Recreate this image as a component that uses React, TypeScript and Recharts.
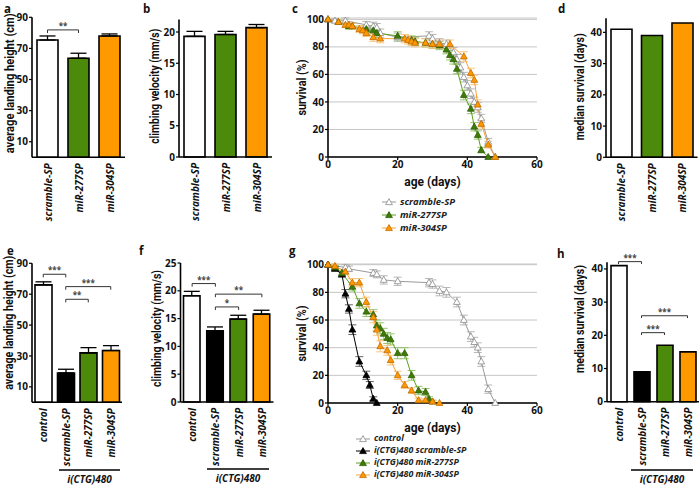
import React from 'react'
import {
  BarChart,
  Bar,
  Cell,
  LineChart,
  Line,
  XAxis,
  YAxis,
  ErrorBar,
  ReferenceLine,
  CartesianGrid,
  Label,
  Legend,
} from 'recharts'

const W = 700
const H = 487
const FONT = '"Open Sans", "Noto Sans", Arial, sans-serif'
const TITLE_FONT = 'Roboto, "Open Sans", sans-serif'

const GREEN = '#4b8a0a'
const ORANGE = '#ff9900'
const GRAY = '#9a9a9a'

// top row (sponge lines)
const spGroups = ['scramble-SP', 'miR-277SP', 'miR-304SP']
const spColors = ['#ffffff', GREEN, ORANGE]
const spLanding = [75.4, 63.7, 78]
const spLandingErr = [2.6, 3.2, 1.3]
const spVelocity = [19.3, 19.6, 20.7]
const spVelocityErr = [0.8, 0.5, 0.5]
const spMedian = [41, 39, 43]

// bottom row (i(CTG)480 background)
const ctgGroups = ['control', 'scramble-SP', 'miR-277SP', 'miR-304SP']
const ctgColors = ['#ffffff', '#000000', GREEN, ORANGE]
const ctgLanding = [76, 19, 32, 33.5]
const ctgLandingErr = [2, 2.4, 3.4, 3.2]
const ctgVelocity = [19.1, 12.8, 14.9, 15.8]
const ctgVelocityErr = [0.8, 0.7, 0.7, 0.7]
const ctgMedian = [41, 9, 17, 15]

// survival curves, panel c
const cScrDays = [0, 2, 5, 11, 13, 14, 15, 20, 29, 30, 32, 34, 36, 37, 38, 39, 40, 41, 42, 43, 44, 46, 48]
const cScrSurv = [100, 99, 99, 96, 95, 94, 90, 87, 88, 86, 83, 82, 76, 71, 65, 58, 52, 46, 40, 36, 28, 11, 0]
const cScrErr = [0, 1.5, 2, 2.5, 3, 3, 3, 3, 3, 3, 3, 3, 3.5, 3.5, 3.5, 3.5, 3.5, 3.5, 3.5, 3.5, 3, 2.5, 0]
const c277Days = [0, 3, 6, 7, 11, 13, 14, 20, 24, 25, 28, 30, 32, 34, 35, 36, 37, 39, 41, 42, 43, 44, 46]
const c277Surv = [100, 98, 95, 95, 93, 92, 90, 88, 85, 84, 83, 82, 81, 78, 74, 71, 64, 45, 35, 22, 16, 5, 0]
const c277Err = [0, 1.5, 2, 2, 2.5, 2.5, 3, 3, 3, 3, 3, 3, 3, 3, 3.5, 3.5, 3.5, 3.5, 3.5, 3, 3, 2, 0]
const c304Days = [0, 3, 5, 6, 7, 9, 10, 11, 13, 15, 22, 23, 24, 25, 28, 30, 32, 35, 39, 41, 42, 43, 44, 46, 48]
const c304Surv = [100, 98, 96, 96, 95, 93, 92, 90, 87, 86, 86, 85, 84, 83, 83, 82, 82, 82, 73, 61, 56, 38, 24, 9, 0]
const c304Err = [0, 1.5, 2, 2, 2, 2.5, 2.5, 2.5, 3, 3, 3, 3, 3, 3, 3, 3, 3, 3, 3.5, 3.5, 3.5, 3.5, 3, 2.5, 0]

// survival curves, panel g
const gCtlDays = [0, 5, 6, 13, 14, 16, 20, 29, 30, 32, 34, 37, 39, 41, 42, 43, 44, 46, 48]
const gCtlSurv = [100, 98, 97, 94, 93, 89, 88, 87, 86, 81, 80, 73, 60, 48, 44, 40, 30, 10, 0]
const gCtlErr = [0, 2, 2, 2.5, 2.5, 3, 3, 3, 3, 3.5, 3.5, 3.5, 3.5, 3.5, 3.5, 3.5, 3.5, 3, 0]
const gScrDays = [0, 2, 4, 5, 6, 7, 9, 11, 12, 13, 14]
const gScrSurv = [100, 97, 93, 79, 68, 53, 30, 20, 13, 3, 0]
const gScrErr = [0, 1.5, 2, 3, 3, 3.5, 3.5, 3, 2.5, 1.5, 0]
const g277Days = [0, 2, 4, 7, 9, 11, 13, 14, 15, 16, 17, 18, 20, 22, 24, 26, 28, 29, 30]
const g277Surv = [100, 98, 94, 84, 72, 66, 64, 56, 54, 50, 47, 46, 36, 36, 20, 9, 8, 3, 1]
const g277Err = [0, 1.5, 2, 3, 3.5, 3.5, 3.5, 4, 4, 4, 4, 4, 4, 4, 3.5, 3, 2.5, 1.5, 1]
const g304Days = [0, 2, 5, 7, 9, 11, 13, 14, 15, 17, 18, 20, 22, 24, 26, 28, 30, 32]
const g304Surv = [100, 99, 95, 87, 87, 73, 62, 53, 41, 38, 31, 20, 13, 9, 2, 2, 1, 0]
const g304Err = [0, 1.5, 2, 3, 3, 3.5, 4, 4, 4, 3.5, 3.5, 3, 2.5, 2, 1.5, 1, 1, 0]

const toRows = (days: number[], surv: number[], err: number[]) =>
  days.map((day, i) => ({ day, surv: surv[i], err: err[i] }))

interface Bracket {
  from: string
  to: string
  y: number
  stars: string
}

function RotTick(props: any) {
  const { x, y, payload } = props
  return (
    <text
      transform={`translate(${x},${y}) rotate(-90)`}
      textAnchor="end"
      dominantBaseline="central"
      fontSize={10}
      fontWeight={700}
      fontStyle="italic"
      fontFamily={FONT}
      fill="#111"
    >
      {payload.value}
    </text>
  )
}

// rotated axis title, squeezed to the span it has in the figure
function YTitle(props: any) {
  const { viewBox, text, dist, len, dy = 0 } = props
  const cx = viewBox.x + viewBox.width - dist
  const cy = viewBox.y + viewBox.height / 2 + dy
  return (
    <text
      x={cx}
      y={cy}
      transform={`rotate(-90 ${cx} ${cy})`}
      textAnchor="middle"
      dominantBaseline="central"
      fontSize={12}
      fontWeight={700}
      fontFamily={TITLE_FONT}
      textLength={len}
      lengthAdjust="spacingAndGlyphs"
      fill="#111"
    >
      {text}
    </text>
  )
}

function XTitle(props: any) {
  const { viewBox, text, dy } = props
  return (
    <text
      x={viewBox.x + viewBox.width / 2}
      y={viewBox.y + dy}
      textAnchor="middle"
      dominantBaseline="central"
      fontSize={12}
      fontWeight={700}
      fontFamily={TITLE_FONT}
      fill="#111"
    >
      {text}
    </text>
  )
}

const tickStyle = { fontSize: 10, fontWeight: 700, fill: '#111', fontFamily: FONT }
const axisStyle = { stroke: '#000', strokeWidth: 1.6 }

function BarPanel(props: any) {
  const {
    groups, colors, values, errors, domain, ticks, left, right, top, bottom,
    barSize, title, titleDist, titleLen, titleDy, brackets = [], drop = 0,
  } = props
  const yW = 30
  const xH = 70
  const rows = groups.map((name: string, i: number) => ({
    name,
    value: values[i],
    err: errors ? [0, errors[i]] : null,
  }))
  return (
    <div style={{ position: 'absolute', left: 0, top: 0 }}>
      <BarChart
        width={W}
        height={H}
        data={rows}
        margin={{ top, left: left - yW, right: W - right, bottom: H - bottom - xH }}
      >
        <XAxis
          dataKey="name"
          height={xH}
          tickLine={false}
          tickSize={0}
          tickMargin={6}
          interval={0}
          axisLine={axisStyle}
          tick={<RotTick />}
        />
        <YAxis
          width={yW}
          domain={domain}
          ticks={ticks}
          tickSize={3}
          tickMargin={1}
          axisLine={axisStyle}
          tickLine={{ stroke: '#000', strokeWidth: 1.2 }}
          tick={tickStyle}
        >
          <Label
            content={(p: any) => <YTitle {...p} text={title} dist={titleDist} len={titleLen} dy={titleDy} />}
          />
        </YAxis>
        <Bar dataKey="value" barSize={barSize} stroke="#000" strokeWidth={1.6} isAnimationActive={false}>
          {rows.map((r: any, i: number) => (
            <Cell key={r.name} fill={colors[i]} />
          ))}
          {errors && <ErrorBar dataKey="err" width={8} stroke="#000" strokeWidth={1.3} direction="y" />}
        </Bar>
        {brackets.flatMap((b: Bracket, i: number) => [
          <ReferenceLine
            key={`h${i}`}
            segment={[{ x: b.from, y: b.y }, { x: b.to, y: b.y }]}
            stroke="#333"
            strokeWidth={1}
            ifOverflow="visible"
            label={{ value: b.stars, position: 'top', offset: 1, fontSize: 8, fontWeight: 700, fill: '#444' }}
          />,
          <ReferenceLine
            key={`l${i}`}
            segment={[{ x: b.from, y: b.y }, { x: b.from, y: b.y - drop }]}
            stroke="#333"
            strokeWidth={1}
            ifOverflow="visible"
          />,
          <ReferenceLine
            key={`r${i}`}
            segment={[{ x: b.to, y: b.y }, { x: b.to, y: b.y - drop }]}
            stroke="#333"
            strokeWidth={1}
            ifOverflow="visible"
          />,
        ])}
      </BarChart>
    </div>
  )
}

function Tri(props: any) {
  const { cx, cy, fill, stroke } = props
  if (cx == null || cy == null) return null
  return (
    <path
      d={`M${cx},${cy - 3.6}L${cx + 3.4},${cy + 2.4}L${cx - 3.4},${cy + 2.4}Z`}
      fill={fill}
      stroke={stroke}
      strokeWidth={0.8}
    />
  )
}

function LegendBox({ series, rowH, size }: any) {
  return (
    <div style={{ fontFamily: FONT }}>
      {series.map((s: any) => (
        <div key={s.name} style={{ display: 'flex', alignItems: 'center', height: rowH }}>
          <svg width={14} height={9} style={{ marginRight: 4 }}>
            <line x1={0} y1={5} x2={14} y2={5} stroke={s.line} strokeWidth={1} />
            <Tri cx={7} cy={5.2} fill={s.fill} stroke={s.stroke} />
          </svg>
          <span
            style={{
              fontSize: size,
              lineHeight: `${rowH}px`,
              fontWeight: 700,
              fontStyle: 'italic',
              color: '#222',
              whiteSpace: 'nowrap',
            }}
          >
            {s.name}
          </span>
        </div>
      ))}
    </div>
  )
}

function SurvivalPanel(props: any) {
  const { series, left, right, top, bottom, legendLeft, legendTop, rowH, legendSize } = props
  const yW = 30
  const xH = 40
  return (
    <div style={{ position: 'absolute', left: 0, top: 0 }}>
      <LineChart
        width={W}
        height={H}
        margin={{ top, left: left - yW, right: W - right, bottom: H - bottom - xH }}
      >
        <CartesianGrid vertical={false} stroke="#c6c6c6" strokeWidth={1} />
        <XAxis
          type="number"
          dataKey="day"
          domain={[0, 60]}
          ticks={[0, 20, 40, 60]}
          height={xH}
          tickSize={3}
          tickMargin={1}
          axisLine={axisStyle}
          tickLine={{ stroke: '#000', strokeWidth: 1.2 }}
          tick={tickStyle}
        >
          <Label content={(p: any) => <XTitle {...p} text="age (days)" dy={25} />} />
        </XAxis>
        <YAxis
          type="number"
          width={yW}
          domain={[0, 100]}
          ticks={[0, 20, 40, 60, 80, 100]}
          tickSize={3}
          tickMargin={1}
          axisLine={axisStyle}
          tickLine={{ stroke: '#000', strokeWidth: 1.2 }}
          tick={tickStyle}
        >
          <Label content={(p: any) => <YTitle {...p} text="survival (%)" dist={26} len={56} dy={0} />} />
        </YAxis>
        {series.map((s: any) => (
          <Line
            key={s.name}
            name={s.name}
            data={s.data}
            dataKey="surv"
            type="linear"
            stroke={s.line}
            strokeWidth={1}
            isAnimationActive={false}
            dot={(p: any) => <Tri key={`${s.name}-${p.index}`} cx={p.cx} cy={p.cy} fill={s.fill} stroke={s.stroke} />}
          >
            <ErrorBar dataKey="err" width={4} stroke={s.errColor} strokeWidth={0.9} direction="y" />
          </Line>
        ))}
        <Legend
          layout="vertical"
          align="center"
          verticalAlign="middle"
          wrapperStyle={{ left: legendLeft, top: legendTop, width: 'auto' }}
          content={() => <LegendBox series={series} rowH={rowH} size={legendSize} />}
        />
      </LineChart>
    </div>
  )
}

const cSeries = [
  { name: 'scramble-SP', data: toRows(cScrDays, cScrSurv, cScrErr), line: GRAY, fill: '#ffffff', stroke: '#8a8a8a', errColor: '#b0b0b0' },
  { name: 'miR-277SP', data: toRows(c277Days, c277Surv, c277Err), line: '#5f9e1e', fill: '#3f7a08', stroke: '#2f5f05', errColor: '#8cc060' },
  { name: 'miR-304SP', data: toRows(c304Days, c304Surv, c304Err), line: '#f7a235', fill: ORANGE, stroke: '#c06a00', errColor: '#f8c070' },
]

const gSeries = [
  { name: 'control', data: toRows(gCtlDays, gCtlSurv, gCtlErr), line: GRAY, fill: '#ffffff', stroke: '#8a8a8a', errColor: '#b0b0b0' },
  { name: 'i(CTG)480 scramble-SP', data: toRows(gScrDays, gScrSurv, gScrErr), line: '#000000', fill: '#000000', stroke: '#000000', errColor: '#555555' },
  { name: 'i(CTG)480 miR-277SP', data: toRows(g277Days, g277Surv, g277Err), line: '#5f9e1e', fill: '#3f7a08', stroke: '#2f5f05', errColor: '#8cc060' },
  { name: 'i(CTG)480 miR-304SP', data: toRows(g304Days, g304Surv, g304Err), line: '#f7a235', fill: ORANGE, stroke: '#c06a00', errColor: '#f8c070' },
]

const panelLetters = [
  { t: 'a', x: 4, y: 12.5 },
  { t: 'b', x: 143, y: 12.5 },
  { t: 'c', x: 292, y: 12.5 },
  { t: 'd', x: 558, y: 12.5 },
  { t: 'e', x: 7, y: 255 },
  { t: 'f', x: 139, y: 255 },
  { t: 'g', x: 289, y: 255 },
  { t: 'h', x: 557, y: 258 },
]

const groupMarks = [
  { x1: 59, x2: 120, y: 470 },
  { x1: 207, x2: 269, y: 469 },
  { x1: 631, x2: 693, y: 470 },
]

export default function App() {
  return (
    <div style={{ position: 'relative', width: W, height: H, background: '#fff', fontFamily: FONT, overflow: 'hidden' }}>
      <style>{'body{margin:0}'}</style>
      <BarPanel
        groups={spGroups} colors={spColors} values={spLanding} errors={spLandingErr}
        domain={[0, 90]} ticks={[0, 10, 20, 30, 40, 50, 60, 70, 80, 90]}
        left={32} right={125} top={17.3} bottom={157.3} barSize={21}
        title="average landing height (cm)" titleDist={22} titleLen={140} titleDy={-4}
        brackets={[{ from: 'scramble-SP', to: 'miR-277SP', y: 81.9, stars: '**' }]} drop={2}
      />
      <BarPanel
        groups={spGroups} colors={spColors} values={spVelocity} errors={spVelocityErr}
        domain={[0, 22]} ticks={[0, 5, 10, 15, 20]}
        left={179} right={272} top={19.5} bottom={157} barSize={21}
        title="climbing velocity (mm/s)" titleDist={24} titleLen={115} titleDy={-2}
      />
      <SurvivalPanel
        series={cSeries} left={328} right={537} top={18} bottom={157}
        legendLeft={382} legendTop={195} rowH={13} legendSize={9.5}
      />
      <BarPanel
        groups={spGroups} colors={spColors} values={spMedian}
        domain={[0, 44.5]} ticks={[0, 10, 20, 30, 40]}
        left={606} right={697.5} top={18.3} bottom={157.3} barSize={21}
        title="median survival (days)" titleDist={26} titleLen={107} titleDy={-1}
      />
      <BarPanel
        groups={ctgGroups} colors={ctgColors} values={ctgLanding} errors={ctgLandingErr}
        domain={[0, 90]} ticks={[0, 10, 20, 30, 40, 50, 60, 70, 80, 90]}
        left={32} right={122} top={263.3} bottom={402.3} barSize={17}
        title="average landing height (cm)" titleDist={23} titleLen={134} titleDy={-10}
        brackets={[
          { from: 'control', to: 'scramble-SP', y: 82.9, stars: '***' },
          { from: 'scramble-SP', to: 'miR-304SP', y: 74.9, stars: '***' },
          { from: 'scramble-SP', to: 'miR-277SP', y: 66.7, stars: '**' },
        ]}
        drop={2}
      />
      <BarPanel
        groups={ctgGroups} colors={ctgColors} values={ctgVelocity} errors={ctgVelocityErr}
        domain={[0, 25]} ticks={[0, 5, 10, 15, 20, 25]}
        left={180.5} right={273.5} top={263} bottom={402} barSize={16.5}
        title="climbing velocity (mm/s)" titleDist={24} titleLen={117} titleDy={-4}
        brackets={[
          { from: 'control', to: 'scramble-SP', y: 21.3, stars: '***' },
          { from: 'scramble-SP', to: 'miR-304SP', y: 19.4, stars: '**' },
          { from: 'scramble-SP', to: 'miR-277SP', y: 17.1, stars: '*' },
        ]}
        drop={0.55}
      />
      <SurvivalPanel
        series={gSeries} left={328} right={537} top={264} bottom={403}
        legendLeft={356} legendTop={432} rowH={12} legendSize={8.8}
      />
      <BarPanel
        groups={ctgGroups} colors={ctgColors} values={ctgMedian}
        domain={[0, 42]} ticks={[0, 10, 20, 30, 40]}
        left={607} right={699} top={262.3} bottom={401.7} barSize={16}
        title="median survival (days)" titleDist={27} titleLen={108} titleDy={-13}
        brackets={[
          { from: 'control', to: 'scramble-SP', y: 42.2, stars: '***' },
          { from: 'scramble-SP', to: 'miR-304SP', y: 25.9, stars: '***' },
          { from: 'scramble-SP', to: 'miR-277SP', y: 20.8, stars: '***' },
        ]}
        drop={0.7}
      />
      <svg width={W} height={H} style={{ position: 'absolute', left: 0, top: 0, pointerEvents: 'none' }}>
        {panelLetters.map((p) => (
          <text key={p.t} x={p.x} y={p.y} fontSize={11.5} fontWeight={700} fontFamily={FONT} fill="#111">
            {p.t}
          </text>
        ))}
        {groupMarks.map((g, i) => (
          <g key={i}>
            <line x1={g.x1} x2={g.x2} y1={g.y} y2={g.y} stroke="#000" strokeWidth={1.4} />
            <text
              x={(g.x1 + g.x2) / 2}
              y={g.y + 13}
              textAnchor="middle"
              fontSize={10}
              fontWeight={700}
              fontStyle="italic"
              fontFamily={FONT}
              fill="#111"
            >
              i(CTG)480
            </text>
          </g>
        ))}
      </svg>
    </div>
  )
}
